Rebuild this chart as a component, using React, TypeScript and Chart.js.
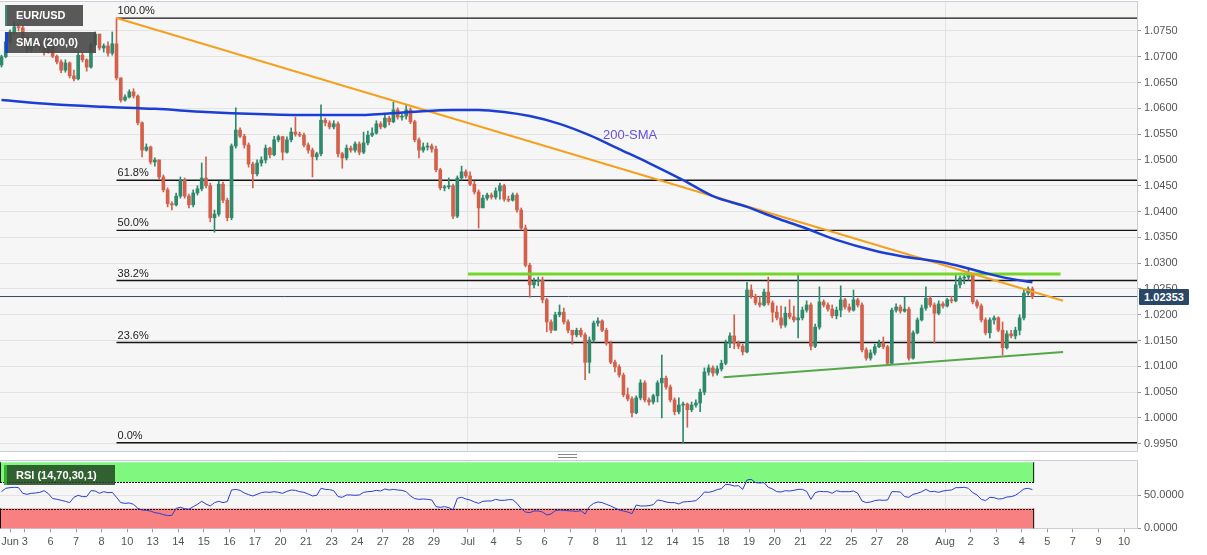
import React, { useEffect, useRef } from 'react';
import { Chart, registerables } from 'chart.js';

Chart.register(...registerables);

// ---------- DATA (EUR/USD, 4H candles, Jun 1 – Aug 4) ----------
const firstOpen = 1.0684;

const closes = [
  1.0700, 1.0729, 1.0748, 1.0758, 1.0756, 1.0738, 1.0713, 1.0725, 1.0729, 1.0719,
  1.0709, 1.0736, 1.0701, 1.0690, 1.0674, 1.0688, 1.0663, 1.0657, 1.0703, 1.0694,
  1.0680, 1.0723, 1.0744, 1.0717, 1.0721, 1.0707, 1.0725, 1.0659, 1.0616, 1.0622,
  1.0632, 1.0624, 1.0572, 1.0519, 1.0525, 1.0496, 1.0500, 1.0467, 1.0442, 1.0415,
  1.0413, 1.0430, 1.0461, 1.0430, 1.0413, 1.0436, 1.0444, 1.0465, 1.0450, 1.0388,
  1.0395, 1.0453, 1.0422, 1.0388, 1.0527, 1.0558, 1.0546, 1.0529, 1.0492, 1.0473,
  1.0494, 1.0500, 1.0523, 1.0510, 1.0539, 1.0545, 1.0515, 1.0539, 1.0554, 1.0550,
  1.0548, 1.0529, 1.0519, 1.0506, 1.0512, 1.0577, 1.0572, 1.0564, 1.0570, 1.0512,
  1.0504, 1.0523, 1.0519, 1.0531, 1.0515, 1.0533, 1.0548, 1.0552, 1.0570, 1.0564,
  1.0581, 1.0574, 1.0597, 1.0583, 1.0585, 1.0597, 1.0574, 1.0539, 1.0519, 1.0525,
  1.0527, 1.0521, 1.0481, 1.0446, 1.0448, 1.0450, 1.0391, 1.0465, 1.0477, 1.0469,
  1.0453, 1.0438, 1.0407, 1.0426, 1.0432, 1.0428, 1.0440, 1.0450, 1.0424, 1.0422,
  1.0432, 1.0403, 1.0368, 1.0296, 1.0258, 1.0265, 1.0267, 1.0229, 1.0186, 1.0170,
  1.0200, 1.0205, 1.0186, 1.0170, 1.0161, 1.0170, 1.0161, 1.0108, 1.0151, 1.0184,
  1.0188, 1.0170, 1.0145, 1.0108, 1.0099, 1.0083, 1.0045, 1.0037, 1.0010, 1.0039,
  1.0068, 1.0035, 1.0031, 1.0043, 1.0068, 1.0077, 1.0060, 1.0035, 1.0012, 1.0025,
  1.0027, 1.0016, 1.0025, 1.0029, 1.0050, 1.0089, 1.0097, 1.0087, 1.0095, 1.0106,
  1.0145, 1.0159, 1.0145, 1.0139, 1.0128, 1.0248, 1.0236, 1.0223, 1.0219, 1.0244,
  1.0223, 1.0205, 1.0194, 1.0180, 1.0203, 1.0196, 1.0190, 1.0194, 1.0209, 1.0219,
  1.0139, 1.0176, 1.0225, 1.0219, 1.0211, 1.0198, 1.0209, 1.0229, 1.0215, 1.0209,
  1.0229, 1.0219, 1.0132, 1.0116, 1.0126, 1.0138, 1.0145, 1.0138, 1.0106, 1.0209,
  1.0215, 1.0207, 1.0211, 1.0116, 1.0165, 1.0190, 1.0213, 1.0232, 1.0219, 1.0203,
  1.0221, 1.0217, 1.0229, 1.0227, 1.0258, 1.0271, 1.0273, 1.0277, 1.0225, 1.0217,
  1.0190, 1.0165, 1.0190, 1.0194, 1.0170, 1.0136, 1.0163, 1.0159, 1.0170, 1.0194,
  1.0242, 1.0250, 1.02353,
];

const highs = [
  1.0703, 1.0736, 1.0752, 1.0767, 1.0762, 1.0760, 1.0740, 1.0729, 1.0736, 1.0732,
  1.0723, 1.0742, 1.0738, 1.0703, 1.0694, 1.0694, 1.0690, 1.0674, 1.0709, 1.0707,
  1.0696, 1.0727, 1.0748, 1.0742, 1.0725, 1.0729, 1.0748, 1.0775, 1.0659, 1.0626,
  1.0636, 1.0638, 1.0626, 1.0574, 1.0531, 1.0527, 1.0504, 1.0500, 1.0471, 1.0446,
  1.0419, 1.0436, 1.0467, 1.0465, 1.0434, 1.0442, 1.0450, 1.0494, 1.0506, 1.0455,
  1.0403, 1.0459, 1.0457, 1.0426, 1.0531, 1.0601, 1.0562, 1.0550, 1.0533, 1.0496,
  1.0500, 1.0506, 1.0529, 1.0525, 1.0546, 1.0548, 1.0546, 1.0545, 1.0562, 1.0583,
  1.0554, 1.0552, 1.0533, 1.0523, 1.0515, 1.0607, 1.0581, 1.0576, 1.0576, 1.0574,
  1.0515, 1.0529, 1.0527, 1.0535, 1.0535, 1.0554, 1.0556, 1.0562, 1.0576, 1.0574,
  1.0587, 1.0585, 1.0612, 1.0601, 1.0589, 1.0607, 1.0601, 1.0577, 1.0543, 1.0533,
  1.0533, 1.0531, 1.0527, 1.0484, 1.0451, 1.0465, 1.0453, 1.0469, 1.0488, 1.0481,
  1.0477, 1.0459, 1.0442, 1.0432, 1.0436, 1.0436, 1.0446, 1.0455, 1.0453, 1.0430,
  1.0436, 1.0436, 1.0407, 1.0374, 1.0300, 1.0271, 1.0273, 1.0273, 1.0232, 1.0190,
  1.0205, 1.0219, 1.0213, 1.0190, 1.0170, 1.0174, 1.0174, 1.0165, 1.0157, 1.0188,
  1.0194, 1.0190, 1.0174, 1.0149, 1.0112, 1.0103, 1.0087, 1.0058, 1.0041, 1.0043,
  1.0074, 1.0072, 1.0039, 1.0046, 1.0072, 1.0122, 1.0081, 1.0064, 1.0039, 1.0039,
  1.0031, 1.0029, 1.0031, 1.0035, 1.0056, 1.0097, 1.0103, 1.0101, 1.0101, 1.0112,
  1.0151, 1.0165, 1.0200, 1.0149, 1.0143, 1.0263, 1.0258, 1.0240, 1.0236, 1.0250,
  1.0273, 1.0227, 1.0217, 1.0217, 1.0215, 1.0229, 1.0217, 1.0277, 1.0215, 1.0227,
  1.0223, 1.0182, 1.0254, 1.0229, 1.0223, 1.0219, 1.0215, 1.0256, 1.0232, 1.0221,
  1.0248, 1.0232, 1.0223, 1.0136, 1.0132, 1.0143, 1.0151, 1.0157, 1.0141, 1.0213,
  1.0221, 1.0219, 1.0234, 1.0215, 1.0169, 1.0194, 1.0219, 1.0254, 1.0236, 1.0223,
  1.0227, 1.0225, 1.0232, 1.0236, 1.0277, 1.0275, 1.0279, 1.0291, 1.0279, 1.0229,
  1.0221, 1.0194, 1.0194, 1.0198, 1.0196, 1.0186, 1.0169, 1.0170, 1.0176, 1.0200,
  1.0248, 1.0254, 1.0254,
];

const lows = [
  1.0680, 1.0698, 1.0725, 1.0744, 1.0750, 1.0734, 1.0709, 1.0709, 1.0719, 1.0713,
  1.0703, 1.0707, 1.0698, 1.0686, 1.0669, 1.0670, 1.0659, 1.0653, 1.0655, 1.0690,
  1.0672, 1.0678, 1.0721, 1.0713, 1.0709, 1.0701, 1.0703, 1.0655, 1.0612, 1.0614,
  1.0620, 1.0620, 1.0568, 1.0506, 1.0517, 1.0492, 1.0488, 1.0463, 1.0438, 1.0409,
  1.0403, 1.0411, 1.0426, 1.0426, 1.0407, 1.0409, 1.0432, 1.0440, 1.0446, 1.0380,
  1.0360, 1.0391, 1.0417, 1.0382, 1.0384, 1.0523, 1.0543, 1.0523, 1.0486, 1.0446,
  1.0469, 1.0488, 1.0494, 1.0504, 1.0508, 1.0535, 1.0500, 1.0513, 1.0535, 1.0546,
  1.0545, 1.0525, 1.0513, 1.0467, 1.0500, 1.0508, 1.0566, 1.0560, 1.0560, 1.0506,
  1.0484, 1.0500, 1.0515, 1.0515, 1.0510, 1.0512, 1.0529, 1.0545, 1.0550, 1.0560,
  1.0562, 1.0568, 1.0572, 1.0579, 1.0577, 1.0579, 1.0570, 1.0535, 1.0504, 1.0515,
  1.0519, 1.0515, 1.0477, 1.0442, 1.0440, 1.0444, 1.0386, 1.0388, 1.0461, 1.0465,
  1.0450, 1.0434, 1.0368, 1.0413, 1.0422, 1.0424, 1.0424, 1.0424, 1.0420, 1.0419,
  1.0420, 1.0399, 1.0364, 1.0293, 1.0234, 1.0252, 1.0256, 1.0223, 1.0167, 1.0165,
  1.0170, 1.0196, 1.0182, 1.0165, 1.0143, 1.0157, 1.0157, 1.0074, 1.0087, 1.0147,
  1.0178, 1.0167, 1.0141, 1.0105, 1.0089, 1.0079, 1.0041, 1.0033, 1.0002, 1.0008,
  1.0035, 1.0031, 1.0025, 1.0027, 1.0031, 1.0000, 1.0056, 1.0031, 1.0006, 1.0008,
  0.9952, 0.9982, 1.0012, 1.0021, 1.0012, 1.0045, 1.0083, 1.0081, 1.0083, 1.0091,
  1.0103, 1.0136, 1.0134, 1.0134, 1.0122, 1.0126, 1.0232, 1.0219, 1.0215, 1.0217,
  1.0219, 1.0186, 1.0190, 1.0174, 1.0176, 1.0192, 1.0186, 1.0155, 1.0190, 1.0205,
  1.0132, 1.0136, 1.0172, 1.0215, 1.0207, 1.0194, 1.0192, 1.0196, 1.0211, 1.0205,
  1.0207, 1.0215, 1.0128, 1.0112, 1.0112, 1.0122, 1.0136, 1.0134, 1.0103, 1.0105,
  1.0205, 1.0203, 1.0205, 1.0112, 1.0114, 1.0163, 1.0188, 1.0209, 1.0215, 1.0145,
  1.0200, 1.0213, 1.0215, 1.0223, 1.0225, 1.0252, 1.0260, 1.0267, 1.0221, 1.0213,
  1.0186, 1.0161, 1.0155, 1.0182, 1.0167, 1.0122, 1.0134, 1.0155, 1.0153, 1.0161,
  1.0190, 1.0238, 1.0231,
];

const rsiValues = [
  55.5, 60.6, 61.6, 62.1, 61.6, 53, 51.5, 53, 53.5, 54.5,
  57, 52.5, 45, 44, 42.4, 40.9, 38.9, 47, 50, 48,
  48, 57, 56.5, 53, 55.5, 54, 54.5, 47, 38.9, 37.8,
  38.4, 36.3, 30.3, 27.7, 27.2, 26.2, 23.7, 22.7, 20.7, 19.2,
  19.7, 30.3, 31.8, 29.8, 28.8, 32.8, 36.3, 40.9, 36.8, 33.8,
  38.9, 40.9, 38.9, 40.4, 58, 59, 57.5, 53.5, 51, 49,
  51.5, 54, 55, 54.5, 55.5, 54.5, 53, 56, 58, 57.5,
  55.5, 54.5, 52, 49, 50, 60.6, 59, 58.6, 57, 48,
  47, 50.5, 50.5, 50, 50.5, 54.5, 55.5, 56, 57.5, 56.5,
  59.6, 58, 59, 58, 57.5, 55.5, 49, 45, 43.9, 44.4,
  43.9, 42.9, 32.8, 31.8, 32.8, 31.3, 27.7, 45.4, 47, 44.4,
  42.9, 39.9, 37.8, 40.9, 41.4, 41.4, 43.9, 42.4, 42.4, 43.4,
  43.4, 37.8, 29.8, 24.7, 23.7, 26.2, 26.2, 24.7, 20.2, 21.7,
  26.7, 27.7, 27.2, 26.7, 26.2, 25.7, 26.7, 21.7, 32.8, 37.8,
  39.9, 38.9, 36.3, 33.8, 30.8, 27.7, 26.2, 24.7, 22.2, 35.3,
  33.8, 33.8, 34.3, 35.8, 42.9, 41.9, 39.9, 38.9, 38.9, 36.8,
  39.9, 40.4, 40.9, 41.9, 47.4, 55, 54.5, 56, 58.6, 60.1,
  66.6, 66.1, 64.1, 64.6, 59, 73.2, 74.2, 69.2, 68.7, 69.2,
  62.1, 59.6, 55.5, 55, 57, 56.5, 57.5, 59, 59, 56,
  43.9, 54, 56, 55.5, 55.5, 53, 57, 55.5, 55.5, 55.5,
  56.5, 53, 41.4, 38.9, 39.9, 41.9, 42.9, 42.4, 42.9, 55.5,
  55.5, 55, 48, 47, 51.5, 53, 55.5, 59, 55.5, 56,
  54.5, 56.5, 57.5, 58, 61.6, 61.6, 62.1, 60.6, 54, 50.5,
  43.9, 41.9, 47, 46.4, 44.4, 44.9, 47.4, 47.9, 50, 54.5,
  59.6, 60.6, 58.6,
];

// 200-period SMA, read at sample candles
const smaIdx = [0, 12, 24, 36, 48, 60, 72, 84, 96, 106, 112, 118, 124, 131, 138, 145, 152, 160, 167, 175, 182, 188, 196, 205, 211, 222, 230, 236, 242];
const smaVals = [1.0616, 1.0608, 1.0603, 1.0599, 1.0593, 1.0589, 1.0587, 1.0587, 1.0593, 1.0597, 1.0597, 1.0593, 1.0585, 1.0570, 1.0548, 1.0521, 1.0494, 1.0461, 1.0430, 1.0409, 1.0387, 1.0370, 1.0345, 1.0324, 1.0314, 1.0300, 1.0283, 1.0271, 1.0263];

// Fibonacci retracement
const fibHigh = 1.0775;
const fibLow = 0.9952;
const fibAnchorIdx = 27;
const fibRatios = [1, 0.618, 0.5, 0.382, 0.236, 0];
const fibLabels = ['100.0%', '61.8%', '50.0%', '38.2%', '23.6%', '0.0%'];

// drawn trend lines [candle index, price]
const trendLine = [[27, 1.0775], [249.2, 1.0227]];
const resistanceLine = [[109.5, 1.0279], [248.6, 1.0279]];
const supportLine = [[169.5, 1.0079], [249.2, 1.0128]];
const lastPrice = 1.02353;

// axes
const priceTicks = [0.995, 1.0, 1.005, 1.01, 1.015, 1.02, 1.025, 1.03, 1.035, 1.04, 1.045, 1.05, 1.055, 1.06, 1.065, 1.07, 1.075];
const rsiTicks = [0, 50];
const rsiUpper = 70;
const rsiLower = 30;
const rsiZoneEnd = 242.4;
const xTickIdx = [2, 5.5, 11.5, 17.5, 23.5, 29.5, 35.5, 41.5, 47.5, 53.5, 59.5, 65.5, 71.5, 77.5, 83.5, 89.5, 95.5, 101.5, 109.5, 115.5, 121.5, 127.5, 133.5, 139.5, 145.5, 151.5, 157.5, 163.5, 169.5, 175.5, 181.5, 187.5, 193.5, 199.5, 205.5, 211.5, 221.5, 227.5, 233.5, 239.5, 245.5, 251.5, 257.5, 263.5];
const xTickLabels = ['Jun', '3', '6', '7', '8', '10', '13', '14', '15', '16', '17', '20', '21', '23', '24', '27', '28', '29', 'Jul', '4', '5', '6', '7', '8', '11', '12', '14', '15', '18', '19', '20', '21', '22', '25', '27', '28', 'Aug', '2', '3', '4', '5', '7', '9', '10'];
const monthLabels = ['Jul', 'Aug'];

// ---------- STYLE ----------
const X_MIN = -0.35;
const X_MAX = 266.55;
const PRICE_MIN = 0.9936;
const PRICE_MAX = 1.0808;
const RSI_MAX = 103.5;
const FONT = "'Liberation Sans', Arial, Helvetica, sans-serif";
const GREEN = '#2f8a6c';
const RED = '#d2604b';
const PLOT_BG = '#f6f6f7';
const BORDER = '#c9ced6';
const GRID = '#e3e3e3';

const opens = closes.map((c, i) => (i === 0 ? firstOpen : closes[i - 1]));
const candleColor = (i: number) => (closes[i] >= opens[i] ? GREEN : RED);
const fibLevels = fibRatios.map((r) => fibLow + r * (fibHigh - fibLow));
const monthTicks = xTickIdx.filter((_, k) => monthLabels.includes(xTickLabels[k]));
const toPts = (arr: number[][]) => arr.map(([x, y]) => ({ x, y }));

const areaPlugin = {
  id: 'areaBg',
  beforeDraw(chart: any) {
    const { ctx, chartArea: a } = chart;
    ctx.save();
    ctx.fillStyle = PLOT_BG;
    ctx.fillRect(a.left, a.top, a.right - a.left, a.bottom - a.top);
    ctx.restore();
  },
  afterDraw(chart: any) {
    const { ctx, chartArea: a } = chart;
    ctx.save();
    ctx.strokeStyle = BORDER;
    ctx.lineWidth = 1;
    ctx.beginPath();
    ctx.moveTo(a.left, a.top + 0.5);
    ctx.lineTo(a.right, a.top + 0.5);
    ctx.stroke();
    ctx.restore();
  },
};

const fibLabelPlugin = {
  id: 'fibLabels',
  afterDatasetsDraw(chart: any) {
    const { ctx, scales } = chart;
    const x = scales.x.getPixelForValue(fibAnchorIdx) + 1;
    ctx.save();
    ctx.font = `11px ${FONT}`;
    ctx.fillStyle = '#222';
    ctx.textBaseline = 'bottom';
    ctx.textAlign = 'left';
    fibLevels.forEach((lv, k) => {
      ctx.fillText(fibLabels[k], x, scales.y.getPixelForValue(lv) - 1.5);
    });
    ctx.restore();
  },
};

const zonePlugin = {
  id: 'rsiZones',
  beforeDatasetsDraw(chart: any) {
    const { ctx, scales } = chart;
    const x0 = scales.x.getPixelForValue(X_MIN);
    const x1 = scales.x.getPixelForValue(rsiZoneEnd);
    const zones = [
      { from: rsiUpper, to: 100, color: '#80f880', edge: rsiUpper },
      { from: 0, to: rsiLower, color: '#f88080', edge: rsiLower },
    ];
    ctx.save();
    zones.forEach((z) => {
      const yt = scales.y.getPixelForValue(z.to);
      const yb = scales.y.getPixelForValue(z.from);
      ctx.fillStyle = z.color;
      ctx.fillRect(x0, yt, x1 - x0, yb - yt);
      ctx.strokeStyle = '#111';
      ctx.lineWidth = 1;
      ctx.setLineDash([]);
      ctx.beginPath();
      ctx.moveTo(x1 - 0.5, yt);
      ctx.lineTo(x1 - 0.5, yb);
      ctx.moveTo(x0 + 0.5, yt);
      ctx.lineTo(x0 + 0.5, yb);
      ctx.stroke();
      const ye = Math.round(scales.y.getPixelForValue(z.edge)) + 0.5;
      ctx.setLineDash([2, 1]);
      ctx.beginPath();
      ctx.moveTo(x0, ye);
      ctx.lineTo(x1, ye);
      ctx.stroke();
    });
    ctx.restore();
  },
};

const lineDs = (data: any[], color: string, width: number, order: number, extra: any = {}) => ({
  type: 'line',
  data,
  borderColor: color,
  borderWidth: width,
  pointRadius: 0,
  fill: false,
  tension: 0,
  order,
  ...extra,
});

export default function App() {
  const mainRef = useRef<HTMLCanvasElement>(null);
  const rsiRef = useRef<HTMLCanvasElement>(null);

  useEffect(() => {
    const fibDatasets = fibLevels.map((lv) =>
      lineDs([{ x: fibAnchorIdx, y: lv }, { x: X_MAX, y: lv }], '#151515', 1.3, 9)
    );
    const main = new Chart(mainRef.current as HTMLCanvasElement, {
      type: 'bar',
      data: {
        datasets: [
          {
            type: 'bar',
            data: closes.map((_, i) => ({ x: i, y: [lows[i], highs[i]] })),
            backgroundColor: (c: any) => candleColor(c.dataIndex),
            barThickness: 1,
            grouped: false,
            order: 6,
          } as any,
          {
            type: 'bar',
            data: closes.map((c, i) => ({ x: i, y: [opens[i], c] })),
            backgroundColor: (c: any) => candleColor(c.dataIndex),
            barThickness: 3,
            minBarLength: 1,
            grouped: false,
            order: 5,
          } as any,
          ...fibDatasets,
          lineDs([{ x: X_MIN, y: lastPrice }, { x: X_MAX, y: lastPrice }], '#2c4a6b', 1, 8),
          lineDs(toPts(resistanceLine), '#74d62a', 3, 3),
          lineDs(toPts(supportLine), '#55a84a', 2, 3),
          lineDs(toPts(trendLine), '#f5a01e', 2, 2),
          lineDs(smaIdx.map((x, k) => ({ x, y: smaVals[k] })), '#1b3fd4', 2.5, 1, {
            cubicInterpolationMode: 'monotone',
          }),
        ] as any,
      },
      options: {
        responsive: false,
        maintainAspectRatio: false,
        animation: false,
        devicePixelRatio: 1,
        events: [],
        layout: { padding: { top: 1, bottom: 1, left: 0, right: 0 } },
        plugins: { legend: { display: false }, tooltip: { enabled: false } },
        scales: {
          x: {
            type: 'linear',
            min: X_MIN,
            max: X_MAX,
            offset: false,
            bounds: 'data',
            afterBuildTicks: (s: any) => {
              s.ticks = monthTicks.map((v) => ({ value: v }));
            },
            ticks: { display: false },
            grid: { color: GRID, drawTicks: false, offset: false },
            border: { display: true, color: BORDER },
            afterFit: (s: any) => {
              s.height = 0;
              s.paddingLeft = 0;
              s.paddingRight = 0;
            },
          },
          y: {
            type: 'linear',
            position: 'right',
            min: PRICE_MIN,
            max: PRICE_MAX,
            bounds: 'data',
            afterBuildTicks: (s: any) => {
              s.ticks = priceTicks.map((v) => ({ value: v }));
            },
            ticks: {
              callback: (v: any) => Number(v).toFixed(4),
              padding: 3,
              color: '#555',
              font: { family: FONT, size: 11 },
            },
            grid: { color: GRID, tickLength: 4, tickColor: '#9a9a9a' },
            border: { color: BORDER },
            afterFit: (s: any) => {
              s.width = 70;
              s.paddingTop = 0;
              s.paddingBottom = 0;
            },
          },
        },
      } as any,
      plugins: [areaPlugin, fibLabelPlugin],
    });

    const rsiChart = new Chart(rsiRef.current as HTMLCanvasElement, {
      type: 'line',
      data: {
        datasets: [
          lineDs(rsiValues.map((v, i) => ({ x: i, y: v })), '#2a3fd1', 1, 1),
        ] as any,
      },
      options: {
        responsive: false,
        maintainAspectRatio: false,
        animation: false,
        devicePixelRatio: 1,
        events: [],
        layout: { padding: { top: 8, bottom: 0, left: 0, right: 0 } },
        plugins: { legend: { display: false }, tooltip: { enabled: false } },
        scales: {
          x: {
            type: 'linear',
            min: X_MIN,
            max: X_MAX,
            offset: false,
            bounds: 'data',
            afterBuildTicks: (s: any) => {
              s.ticks = xTickIdx.map((v) => ({ value: v }));
            },
            ticks: {
              autoSkip: false,
              maxRotation: 0,
              minRotation: 0,
              padding: 3,
              color: '#555',
              font: { family: FONT, size: 11 },
              callback: (_v: any, i: number) => xTickLabels[i],
            },
            grid: {
              offset: false,
              color: (c: any) => (c.tick && monthTicks.includes(c.tick.value) ? GRID : 'rgba(0,0,0,0)'),
              tickColor: '#9a9a9a',
              tickLength: 4,
            },
            border: { color: BORDER },
            afterFit: (s: any) => {
              s.height = 26.7;
              s.paddingLeft = 0;
              s.paddingRight = 0;
            },
          },
          y: {
            type: 'linear',
            position: 'right',
            min: 0,
            max: RSI_MAX,
            bounds: 'data',
            afterBuildTicks: (s: any) => {
              s.ticks = rsiTicks.map((v) => ({ value: v }));
            },
            ticks: {
              callback: (v: any) => Number(v).toFixed(4),
              padding: 3,
              color: '#555',
              font: { family: FONT, size: 11 },
            },
            grid: { color: GRID, tickLength: 4, tickColor: '#9a9a9a' },
            border: { color: BORDER },
            afterFit: (s: any) => {
              s.width = 70;
              s.paddingTop = 0;
              s.paddingBottom = 0;
            },
          },
        },
      } as any,
      plugins: [areaPlugin, zonePlugin],
    });

    return () => {
      main.destroy();
      rsiChart.destroy();
    };
  }, []);

  const boxBase: React.CSSProperties = {
    position: 'absolute',
    boxSizing: 'border-box',
    color: '#fff',
    font: `bold 11px ${FONT}`,
    whiteSpace: 'nowrap',
  };

  return (
    <div
      style={{
        position: 'absolute',
        left: 0,
        top: 0,
        width: 1207,
        height: 555,
        background: '#fff',
        overflow: 'hidden',
        fontFamily: FONT,
      }}
    >
      <canvas ref={mainRef} width={1207} height={452} style={{ position: 'absolute', left: 0, top: 0 }} />
      <canvas ref={rsiRef} width={1207} height={103} style={{ position: 'absolute', left: 0, top: 452 }} />

      <div style={{ ...boxBase, left: 5, top: 5, width: 78, height: 21, lineHeight: '21px', paddingLeft: 9, background: 'rgba(72,72,72,0.9)', borderLeft: '2px solid #3d8a72' }}>
        EUR/USD
      </div>
      <div style={{ ...boxBase, left: 5, top: 32, width: 91, height: 21, lineHeight: '21px', paddingLeft: 8, background: 'rgba(72,72,72,0.9)', borderLeft: '3px solid #1b3fd4' }}>
        SMA (200,0)
      </div>
      <div style={{ ...boxBase, left: 4, top: 465, width: 111, height: 20, lineHeight: '20px', paddingLeft: 9, background: 'rgba(35,70,35,0.85)', borderLeft: '3px solid #2fb52f' }}>
        RSI (14,70,30,1)
      </div>
      <div style={{ position: 'absolute', left: 603, top: 127, color: '#6a4fd0', font: `13px ${FONT}`, whiteSpace: 'nowrap' }}>
        200-SMA
      </div>
      <div style={{ ...boxBase, left: 1139, top: 289, width: 50, height: 16, lineHeight: '16px', textAlign: 'center', background: '#2b4767', borderRadius: 1 }}>
        {lastPrice.toFixed(5)}
      </div>
      <div style={{ position: 'absolute', left: 558, top: 454, width: 19, height: 2, borderTop: '1px solid #8a8a8a', borderBottom: '1px solid #8a8a8a' }} />
    </div>
  );
}
